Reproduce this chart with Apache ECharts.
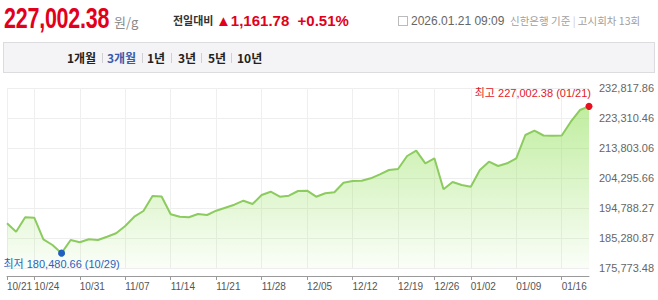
<!DOCTYPE html>
<html><head><meta charset="utf-8">
<script src="https://cdn.jsdelivr.net/npm/echarts@6/dist/echarts.min.js"></script>
<style>
html,body{margin:0;padding:0;background:#fff;}
#wrap{position:relative;width:658px;height:300px;overflow:hidden;background:#fff;}
#chart{position:absolute;left:0;top:0;width:658px;height:300px;}
.t{position:absolute;white-space:nowrap;}
.kr{font-family:'Noto Sans CJK KR','Liberation Sans',sans-serif;}
.lat{font-family:'Liberation Sans','Noto Sans CJK KR',sans-serif;}
#tabs{position:absolute;left:3px;top:42px;width:650px;height:29px;background:#f4f4f6;border:1px solid #dcdce0;}
.tab{position:absolute;top:0;line-height:29px;font-size:12px;font-weight:bold;color:#222;}
.sep{position:absolute;top:10px;width:1px;height:10px;background:#d0d0d4;}
</style></head>
<body><div id="wrap">
<div id="chart"></div>
<div class="t lat" style="left:4px;top:2px;line-height:32px;font-size:29px;font-weight:bold;color:#e2001a;transform:scaleX(0.74);transform-origin:0 0;letter-spacing:-0.3px;">227,002.38</div>
<div class="t kr" style="left:114px;top:14px;line-height:16px;font-size:13px;color:#8a8a8a;">원/g</div>
<div class="t kr" style="left:173px;top:13px;line-height:14px;font-size:11px;font-weight:bold;color:#333;">전일대비</div>
<div class="t lat" style="left:216px;top:13px;line-height:16px;font-size:15px;font-weight:bold;color:#e2001a;"><span style="font-size:15px;">▲</span>1,161.78&nbsp;&nbsp;+0.51%</div>
<div class="t" style="left:398px;top:16px;width:8px;height:8px;border:1px solid #bbb;"></div>
<div class="t lat" style="left:411px;top:13px;line-height:16px;font-size:12px;color:#666;">2026.01.21 09:09</div>
<div class="t kr" style="left:510px;top:13px;line-height:16px;font-size:10.5px;color:#a0a0a0;">신한은행 기준 <span style="color:#ccc">|</span> 고시회차 13회</div>
<div id="tabs" class="kr">
  <div class="tab" style="left:63px;">1개월</div>
  <div class="sep" style="left:98px;"></div>
  <div class="tab" style="left:103px;color:#3a5aae;">3개월</div>
  <div class="sep" style="left:138px;"></div>
  <div class="tab" style="left:143px;">1년</div>
  <div class="sep" style="left:167px;"></div>
  <div class="tab" style="left:174px;">3년</div>
  <div class="sep" style="left:197px;"></div>
  <div class="tab" style="left:204px;">5년</div>
  <div class="sep" style="left:227px;"></div>
  <div class="tab" style="left:233px;">10년</div>
</div>
</div>
<script>
var dates = ['10/21','10/22','10/23','10/24','10/27','10/28','10/29','10/30','10/31',
  '11/03','11/04','11/05','11/06','11/07','11/10','11/11','11/12','11/13','11/14',
  '11/17','11/18','11/19','11/20','11/21','11/24','11/25','11/26','11/27','11/28',
  '12/01','12/02','12/03','12/04','12/05','12/08','12/09','12/10','12/11','12/12',
  '12/15','12/16','12/17','12/18','12/19','12/22','12/23','12/24','12/26',
  '12/29','12/30','12/31','01/02','01/05','01/06','01/07','01/08','01/09',
  '01/12','01/13','01/14','01/15','01/16','01/19','01/20','01/21'];
var prices = [189940.12,187277.45,191841.30,191720.55,184869.20,183062.74,180480.66,184647.31,183918.09,
  184869.50,184647.88,185693.27,186770.64,189084.15,192031.42,193837.90,198591.05,198450.33,192792.61,
  192031.18,191841.77,192887.40,192570.26,193933.52,194883.09,195834.61,197101.44,196056.83,198908.27,
  199954.60,198369.15,198686.72,200175.38,200270.91,198369.54,199447.06,199764.23,202806.48,203345.12,
  203440.75,204200.39,205468.02,206830.57,207147.84,211267.13,212947.66,208954.21,210538.40,
  200714.85,203027.32,202077.19,201538.64,206830.05,209461.77,208098.36,208954.90,210538.12,
  217922.48,219285.63,217764.30,217700.15,217780.42,222137.06,225840.60,227002.38];
var xTickLabels = ['10/21','10/24','10/31','11/07','11/14','11/21','11/28','12/05','12/12','12/19','12/26','01/02','01/09','01/16'];
var yTickLabels = ['175,773.48','185,280.87','194,788.27','204,295.66','213,803.06','223,310.46','232,817.86'];
var yMin = 175773.48, yStep = 9507.39;

function fmt(v){ return v.toLocaleString('en-US',{minimumFractionDigits:2,maximumFractionDigits:2}); }
var maxI = 0, minI = 0;
prices.forEach(function(v,i){ if(v>prices[maxI]) maxI=i; if(v<prices[minI]) minI=i; });
var showTick = function(idx, val){ return xTickLabels.indexOf(dates[idx]) >= 0; };
var ff = "'Liberation Sans','Noto Sans CJK KR',sans-serif";

var chart = echarts.init(document.getElementById('chart'), null, {renderer:'svg'});
chart.setOption({
  animation:false,
  grid:{left:7,right:69,top:88,bottom:32,outerBoundsMode:'none'},
  xAxis:{type:'category',data:dates,boundaryGap:false,offset:8,
    axisLine:{show:true,lineStyle:{color:'#9a9a9a',width:1}},
    axisTick:{show:true,length:4,interval:showTick,lineStyle:{color:'#9a9a9a'}},
    axisLabel:{interval:showTick,align:'left',color:'#555',fontSize:10,fontFamily:ff,margin:5,
      showMinLabel:true,hideOverlap:false},
    splitLine:{show:true,interval:showTick,lineStyle:{color:'#efefef',width:1}}
  },
  yAxis:{type:'value',position:'right',min:yMin,max:yMin+6*yStep,interval:yStep,scale:true,
    axisLine:{show:false},axisTick:{show:false},
    axisLabel:{color:'#666',fontSize:11,fontFamily:ff,margin:10,
      formatter:function(v){ var k=Math.round((v-yMin)/yStep); return yTickLabels[k]||''; }},
    splitLine:{show:true,lineStyle:{color:'#eeeeee',width:1}}
  },
  series:[{type:'line',data:prices,symbol:'none',smooth:false,
    lineStyle:{color:'#8ccb5e',width:2},
    areaStyle:{color:new echarts.graphic.LinearGradient(0,0,0,1,[
      {offset:0,color:'rgba(150,225,95,0.85)'},{offset:1,color:'rgba(150,225,95,0.06)'}])},
    markPoint:{symbol:'circle',symbolSize:7,animation:false,
      data:[
        {coord:[dates[maxI],prices[maxI]],itemStyle:{color:'#e8101e'},
         label:{show:true,position:'top',align:'right',distance:4,offset:[2,0],color:'#e0202a',fontSize:11,fontFamily:ff,
           formatter:'최고 '+fmt(prices[maxI])+' ('+dates[maxI]+')'}},
        {coord:[dates[minI],prices[minI]],itemStyle:{color:'#1f5fbf'},
         label:{show:true,position:'bottom',distance:2,color:'#2a62c0',fontSize:11,fontFamily:ff,
           formatter:'최저 '+fmt(prices[minI])+' ('+dates[minI]+')'}}
      ]}
  }]
});
</script>
</body></html>
